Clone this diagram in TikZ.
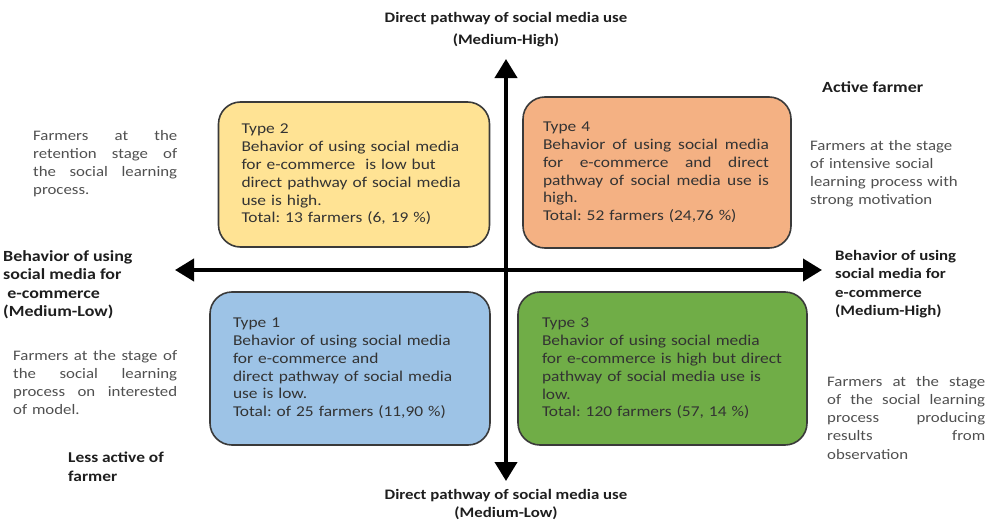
\documentclass[tikz,border=0pt]{standalone}
\usepackage{fontspec}
\setmainfont{Carlito}[FakeStretch=1.16]
\usetikzlibrary{arrows.meta}
\definecolor{cyellow}{HTML}{FFE394}
\definecolor{corange}{HTML}{F4B183}
\definecolor{cblue}{HTML}{9DC3E6}
\definecolor{cgreen}{HTML}{70AD47}
\definecolor{boxline}{HTML}{3A3A3A}
\definecolor{boxtext}{HTML}{333333}
\definecolor{sidetext}{HTML}{505050}
\definecolor{boldtext}{HTML}{1E1E1E}
\newcommand{\jline}[2]{{\spaceskip=0pt\xspaceskip=0pt\makebox[#1][s]{#2}}}
\begin{document}
\frenchspacing
\begin{tikzpicture}[x=1pt,y=-1pt,
  typebox/.style={draw=boxline, line width=1.6pt, rounded corners=22pt,
    font=\fontsize{15}{17.8}\selectfont\frenchspacing, text=boxtext, align=left,
    inner ysep=0pt},
  sidepar/.style={font=\fontsize{14.5}{18.2}\selectfont\frenchspacing, text=sidetext,
    align=left, inner sep=0pt, anchor=north west},
  boldlab/.style={font=\bfseries\fontsize{14.5}{18.5}\selectfont, text=boldtext,
    align=left, inner sep=0pt, anchor=north west},
  axis/.style={line width=4pt, draw=black,
    {Triangle[length=19pt,width=22pt]}-{Triangle[length=19pt,width=22pt]}}]
\useasboundingbox (0,0) rectangle (986,522);
\fill[white] (0,0) rectangle (986,522);

% quadrant boxes
\node[typebox, fill=cyellow, minimum width=271pt, minimum height=145pt,
  inner xsep=23pt, text width=225pt] (t2) at (354,174.5)
  {Type 2\\Behavior of using social media\\for e-commerce\ \ is low but\\direct pathway of social media\\use is high.\\Total: 13 farmers (6, 19 \%)};
\node[typebox, fill=corange, minimum width=268pt, minimum height=151pt,
  inner xsep=20pt, text width=228pt] (t4) at (657,172.5)
  {Type 4\\\jline{226pt}{Behavior of using social media}\\\jline{226pt}{for e-commerce and direct}\\\jline{226pt}{pathway of social media use is}\\high.\\Total: 52 farmers (24,76 \%)};
\node[typebox, fill=cblue, minimum width=280pt, minimum height=153pt,
  inner xsep=23pt, text width=234pt] (t1) at (350,368.5)
  {Type 1\\Behavior of using social media\\for e-commerce and\\direct pathway of social media\\use is low.\\Total: of 25 farmers (11,90 \%)};
\node[typebox, fill=cgreen, minimum width=289pt, minimum height=153pt,
  inner xsep=24pt, text width=241pt] (t3) at (662.5,368.5)
  {Type 3\\Behavior of using social media\\for e-commerce is high but direct\\pathway of social media use is\\low.\\Total: 120 farmers (57, 14 \%)};

% axes
\coordinate (top) at (506,59);
\coordinate (bot) at (506,481);
\coordinate (left) at (175,270);
\coordinate (right) at (822,270);
\draw[axis] (bot) -- (top);
\draw[axis] (left) -- (right);

% axis labels
\node[font=\bfseries\fontsize{14.5}{22}\selectfont, text=boldtext, align=center,
  inner sep=0pt, anchor=north] (toplab) at (506,12)
  {Direct pathway of social media use\\(Medium-High)};
\node[font=\bfseries\fontsize{14.5}{18}\selectfont, text=boldtext, align=center,
  inner sep=0pt, anchor=north] (botlab) at (506,489.5)
  {Direct pathway of social media use\\(Medium-Low)};
\node[boldlab, font=\bfseries\fontsize{15.5}{18.5}\selectfont] (leftlab) at (3,250)
  {Behavior of using\\social media for\\\ e-commerce\\(Medium-Low)};
\node[boldlab] (rightlab) at (835,250)
  {Behavior of using\\social media for\\e-commerce\\(Medium-High)};
\node[boldlab, font=\bfseries\fontsize{15.5}{18.5}\selectfont] (active) at (822,81) {Active farmer};
\node[boldlab, font=\bfseries\fontsize{15}{19}\selectfont] (lessactive) at (68,452) {Less active of\\farmer};

% side texts
\node[sidepar, text width=144pt] (lt) at (33,130)
  {\jline{144pt}{Farmers at the}\\\jline{144pt}{retention stage of}\\\jline{144pt}{the social learning}\\process.};
\node[sidepar, text width=164pt] (lb) at (13,350)
  {\jline{164pt}{Farmers at the stage of}\\\jline{164pt}{the social learning}\\\jline{164pt}{process on interested}\\of model.};
\node[sidepar, text width=160pt] (rt) at (810,140)
  {Farmers at the stage\\of intensive social\\learning process with\\strong motivation};
\node[sidepar, text width=158pt] (rb) at (827,376)
  {\jline{158pt}{Farmers at the stage}\\\jline{158pt}{of the social learning}\\\jline{158pt}{process producing}\\\jline{158pt}{results from}\\observation};
\end{tikzpicture}
\end{document}
